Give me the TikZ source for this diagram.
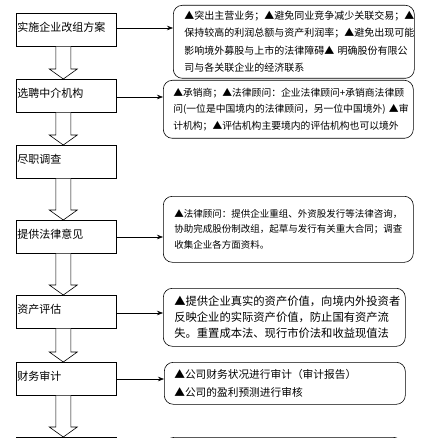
\documentclass[tikz,border=0pt]{standalone}
\usepackage{fontspec}
\newfontfamily\cjk{Noto Sans CJK SC}
\usetikzlibrary{arrows.meta}

\newcommand\stagefont{\cjk\fontsize{11}{13}\selectfont}

\tikzset{
  stage/.style={draw, anchor=north west, text width=98pt, align=left,
    inner xsep=1pt, inner ysep=0pt, text height=18pt, text depth=15pt,
    font=\stagefont, line width=0.6pt},
  note/.style={draw, anchor=north west, rounded corners=9pt, align=left,
    inner ysep=0pt, line width=0.6pt},
  link/.style={-{Stealth[length=6pt,width=4.5pt]}, line width=0.6pt},
  fatarrow/.style={draw, fill=white, line width=0.6pt, line join=miter},
}

\begin{document}
\begin{tikzpicture}[x=1pt,y=1pt,yscale=-1,xscale=1]
\useasboundingbox (0,0) rectangle (420,438);
\clip (0,0) rectangle (420,438);

%Shape: Rectangle [steps]
\node[stage] (s1) at (16,13) {实施企业改组方案};
\node[stage] (s2) at (16,79) {选聘中介机构};
\node[stage] (s3) at (16,145) {尽职调查};
\node[stage] (s4) at (16,220) {提供法律意见};
\node[stage] (s5) at (16,295) {资产评估};
\node[stage] (s6) at (16,362) {财务审计};
\node[stage] (s7) at (16,437) {};

%Shape: Rounded Rectangle [notes]
\node[note, minimum width=241pt, minimum height=73pt, text width=219pt,
  font=\cjk\fontsize{10}{17.5}\selectfont] (n1) at (173,5)
  {▲突出主营业务；▲避免同业竞争减少关联交易；▲\\
   保持较高的利润总额与资产利润率；▲避免出现可能\\
   影响境外募股与上市的法律障碍▲~明确股份有限公\\
   司与各关联企业的经济联系};
\node[note, minimum width=250pt, minimum height=58pt, text width=230pt,
  font=\cjk\fontsize{9.8}{16.5}\selectfont] (n2) at (163,80)
  {▲承销商；▲法律顾问：企业法律顾问+承销商法律顾\\
   问(一位是中国境内的法律顾问，另一位中国境外)~▲审\\
   计机构；▲评估机构主要境内的评估机构也可以境外};
\node[note, minimum width=250pt, minimum height=66pt, text width=228pt,
  font=\cjk\fontsize{9.5}{15.5}\selectfont] (n3) at (163,196)
  {▲法律顾问：提供企业重组、外资股发行等法律咨询，\\
   协助完成股份制改组，起草与发行有关重大合同；调查\\
   收集企业各方面资料。};
\node[note, minimum width=242pt, minimum height=58pt, text width=220pt,
  font=\cjk\fontsize{11.3}{16}\selectfont] (n4) at (163,288)
  {▲提供企业真实的资产价值，向境内外投资者\\
   反映企业的实际资产价值，防止国有资产流\\
   失。重置成本法、现行市价法和收益现值法};
\node[note, minimum width=241pt, minimum height=42pt, text width=221pt,
  font=\cjk\fontsize{10.7}{18}\selectfont] (n5) at (164,362)
  {▲公司财务状况进行审计（审计报告）\\
   ▲公司的盈利预测进行审核};
\node[note, minimum width=237pt, minimum height=50pt] (n6) at (165,437) {};

%Block Arrows
\foreach \a/\b in {s1/s2, s2/s3, s3/s4, s4/s5, s5/s6, s6/s7}
  \draw[fatarrow] ([xshift=-10.5pt]\a.south) -- ([xshift=-10.5pt,yshift=-10pt]\b.north)
    -- ([xshift=-17pt,yshift=-10pt]\b.north) -- ([xshift=-3pt]\b.north)
    -- ([xshift=11pt,yshift=-10pt]\b.north) -- ([xshift=4.5pt,yshift=-10pt]\b.north)
    -- ([xshift=4.5pt]\a.south);

%Straight Lines [links]
\foreach \s/\n/\dy in {s1/n1/15, s2/n2/18, s4/n3/17, s5/n4/18, s6/n5/17} {
  \coordinate (p\s) at ([yshift=\dy pt]\s.north east);
  \draw[link] (p\s) -- (p\s -| \n.west);
}

\end{tikzpicture}
\end{document}
